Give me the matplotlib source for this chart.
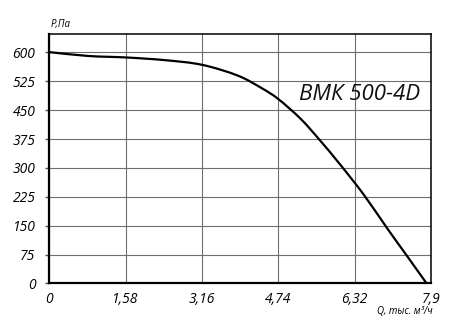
import matplotlib
matplotlib.use("Agg")
import matplotlib.pyplot as plt
from matplotlib.path import Path
from matplotlib.patches import PathPatch

# fan curve
flow = [0, 0.8, 1.6, 2.4, 3.16, 3.9, 4.4, 4.74, 5.2, 5.58, 6.0, 6.5,
        7.0, 7.4, 7.81]
pressure = [601, 591, 587, 580, 568, 540, 507, 479, 428, 375, 312, 232,
            142, 72, 0]

x_ticks = [0, 1.58, 3.16, 4.74, 6.32, 7.9]
x_labels = ["0", "1,58", "3,16", "4,74", "6,32", "7,9"]
y_ticks = [0, 75, 150, 225, 300, 375, 450, 525, 600]
title = "ВМК 500-4D"


def smooth_path(xs, ys):
    # Catmull-Rom through the points, written as cubic Bezier segments
    pts = list(zip(xs, ys))
    verts = [pts[0]]
    codes = [Path.MOVETO]
    for i in range(len(pts) - 1):
        p0 = pts[max(i - 1, 0)]
        p1 = pts[i]
        p2 = pts[i + 1]
        p3 = pts[min(i + 2, len(pts) - 1)]
        c1 = (p1[0] + (p2[0] - p0[0]) / 6, p1[1] + (p2[1] - p0[1]) / 6)
        c2 = (p2[0] - (p3[0] - p1[0]) / 6, p2[1] - (p3[1] - p1[1]) / 6)
        verts += [c1, c2, p2]
        codes += [Path.CURVE4] * 3
    return Path(verts, codes)


plt.rcParams["font.family"] = ["Open Sans", "DejaVu Sans"]

fig = plt.figure(figsize=(4.71, 3.33), dpi=100)
ax = fig.add_axes([0.1047, 0.149, 0.8103, 0.750])

ax.add_patch(PathPatch(smooth_path(flow, pressure), fill=False,
                       edgecolor="black", lw=1.6, zorder=3))

ax.set_xlim(0, 7.9)
ax.set_ylim(0, 649)
ax.set_xticks(x_ticks)
ax.set_xticklabels(x_labels, fontsize=10, fontstyle="italic")
ax.set_yticks(y_ticks)
ax.set_yticklabels([str(v) for v in y_ticks], fontsize=10, fontstyle="italic")
ax.tick_params(axis="y", length=3, width=1, pad=7, color="#555555")
ax.tick_params(axis="x", length=0, pad=6)

ax.grid(True, color="#6e6e6e", lw=0.8, zorder=1)

for side in ("left", "bottom"):
    ax.spines[side].set_linewidth(1.6)
for side in ("top", "right"):
    ax.spines[side].set_linewidth(1.1)

ax.text(0.971, 0.758, title, transform=ax.transAxes, ha="right", va="center",
        fontsize=16, fontstyle="italic", color="#111111")

fig.text(0.107, 0.925, "P,Па", fontsize=7, fontstyle="italic", ha="left", va="center")
fig.text(0.918, 0.066, "Q, тыс. м³/ч", fontsize=7, fontstyle="italic", ha="right", va="center")

fig.savefig("out.png", dpi=100, facecolor="white")
